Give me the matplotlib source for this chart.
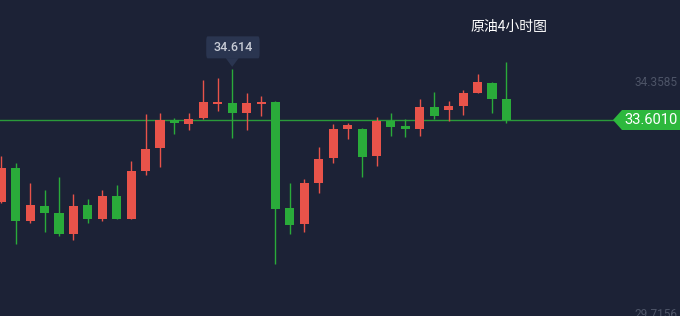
import matplotlib
matplotlib.use('Agg')
import matplotlib.pyplot as plt
import matplotlib.transforms as mtransforms
from matplotlib.patches import Rectangle, Polygon, FancyBboxPatch

plt.rcParams['font.family'] = ['Noto Sans CJK SC', 'DejaVu Sans']

# 4小时K线 (开, 高, 低, 收)
opens = [31.96, 32.64, 31.58, 31.88, 31.74, 31.32, 31.90, 31.62, 32.08, 31.62,
         32.58, 33.04, 33.60, 33.52, 33.64, 33.93, 33.94, 33.74, 33.93, 33.96,
         31.84, 31.53, 32.34, 32.85, 33.42, 33.42, 32.89, 33.58, 33.48, 33.42,
         33.86, 33.80, 33.88, 34.14, 34.34, 34.02]
highs = [32.89, 32.74, 32.34, 32.20, 32.47, 32.13, 32.02, 32.20, 32.30, 32.78,
         33.72, 33.75, 33.64, 33.75, 34.40, 34.45, 34.614, 34.14, 34.08, 33.98,
         32.34, 32.42, 33.06, 33.52, 33.55, 33.44, 33.67, 33.74, 33.62, 34.02,
         34.16, 33.99, 34.20, 34.52, 34.36, 34.77]
lows = [31.94, 31.12, 31.54, 31.36, 31.28, 31.20, 31.54, 31.58, 31.62, 31.62,
        32.50, 32.66, 33.32, 33.40, 33.62, 33.78, 33.25, 33.41, 33.69, 30.73,
        31.33, 31.37, 32.15, 32.75, 33.23, 32.47, 32.69, 33.28, 33.26, 33.28,
        33.62, 33.59, 33.70, 34.14, 33.75, 33.55]
closes = [32.64, 31.58, 31.90, 31.74, 31.32, 31.88, 31.62, 32.08, 31.62, 32.58,
          33.02, 33.60, 33.54, 33.62, 33.96, 33.94, 33.74, 33.94, 33.97, 31.82,
          31.50, 32.34, 32.82, 33.42, 33.50, 32.87, 33.58, 33.46, 33.42, 33.86,
          33.68, 33.88, 34.14, 34.36, 34.02, 33.601]

last_price = 33.6010
peak_label = '34.614'
axis_labels = [34.3585, 29.7156]
title = '原油4小时图'

bg = '#1c2236'
up_color = '#e8534a'
down_color = '#2aab3a'

fig = plt.figure(figsize=(6.8, 3.16), dpi=100, facecolor=bg)
ax = fig.add_axes([0, 0, 1, 1])
ax.set_facecolor(bg)

body_w = 0.63
for i, (o, h, l, c) in enumerate(zip(opens, highs, lows, closes)):
    col = up_color if c >= o else down_color
    ax.vlines(i, l, h, color=col, lw=1.0, zorder=2)
    bottom = min(o, c)
    height = max(abs(c - o), 0.03)
    ax.add_patch(Rectangle((i - body_w / 2, bottom), body_w, height,
                           facecolor=col, edgecolor='none', zorder=3))

ax.set_xlim(-0.09, 47.03)
ax.set_ylim(29.681, 36.001)
ax.axis('off')

# 最新价横线
ax.axhline(last_price, color='#2a9a3a', lw=1.0, zorder=1)

# 右侧价格标签
trans = mtransforms.blended_transform_factory(ax.transAxes, ax.transData)
for v in axis_labels:
    ax.text(0.996, v, f'{v:.4f}', transform=trans, ha='right', va='center',
            color='#4d5467', fontsize=8.5, family=['Roboto', 'DejaVu Sans'])

# 最新价标签
tag_h = 0.2
xa, xb, xc = 613 / 680, 622 / 680, 1.0
tag = Polygon([(xa, last_price), (xb, last_price + tag_h), (xc, last_price + tag_h),
               (xc, last_price - tag_h), (xb, last_price - tag_h)],
              closed=True, transform=trans, facecolor='#2db83d', edgecolor='none', zorder=5)
ax.add_patch(tag)
ax.text(0.996, last_price, f'{last_price:.4f}', transform=trans, ha='right', va='center',
        color='white', fontsize=10.5, family=['Roboto', 'DejaVu Sans'], zorder=6)

# 最高价提示框
peak_i = highs.index(max(highs[:20]))
peak_v = highs[peak_i]
ax.add_patch(FancyBboxPatch((peak_i - 1.8, peak_v + 0.22), 3.7, 0.44,
                            boxstyle='round,pad=0,rounding_size=0.1',
                            facecolor='#2a3550', edgecolor='none', zorder=5))
ax.add_patch(Polygon([(peak_i - 0.45, peak_v + 0.225), (peak_i + 0.45, peak_v + 0.225),
                      (peak_i, peak_v + 0.05)], closed=True,
                     facecolor='#2a3550', edgecolor='none', zorder=5))
ax.text(peak_i + 0.05, peak_v + 0.44, peak_label, ha='center', va='center',
        color='#c8ccd6', fontsize=9, fontweight='medium',
        family=['Roboto', 'DejaVu Sans'], zorder=6)

# 标题
fig.text(509 / 680, 1 - 27 / 316, title, ha='center', va='center',
         color='white', fontsize=10)

fig.savefig('out.png', dpi=100, facecolor=bg)
